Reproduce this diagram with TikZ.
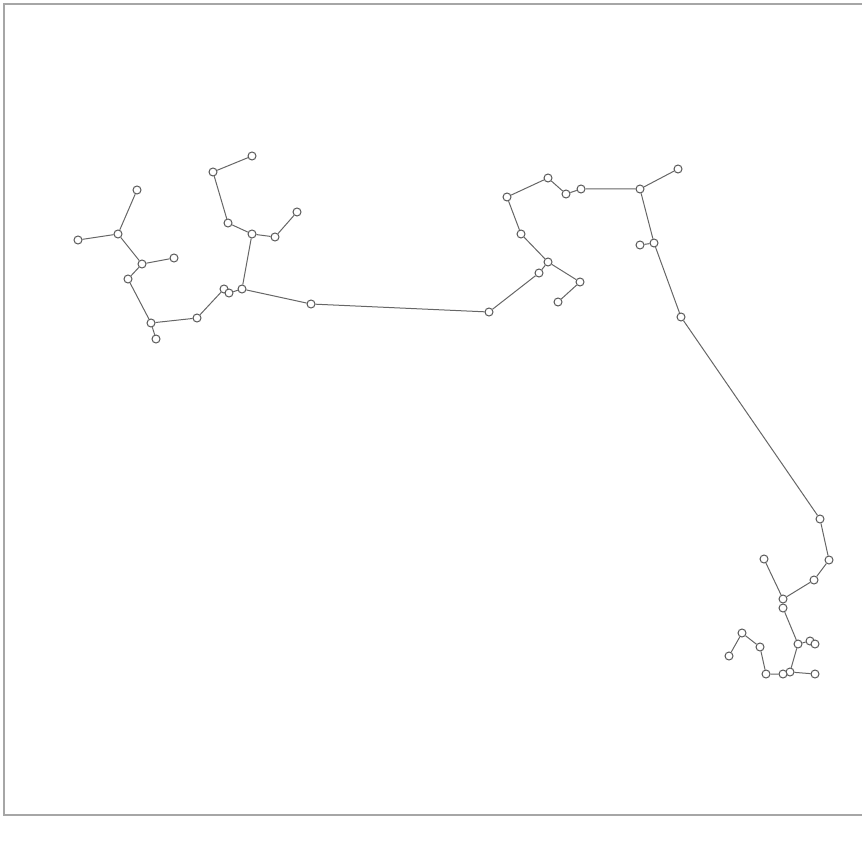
\documentclass[tikz,border=0pt]{standalone}
\begin{document}
\begin{tikzpicture}[x=1pt,y=-1pt,
  vtx/.style={circle,draw=black!65,fill=white,line width=1pt,minimum size=8pt,inner sep=0pt},
  edge/.style={draw=black!60,line width=1pt}]
\useasboundingbox (0,0) rectangle (862,845);
\draw[black!35,line width=1.2pt] (862,4) -- (4,4) -- (4,815) -- (862,815);
% cluster A
\node[vtx] (A1) at (137,190) {};
\node[vtx] (A2) at (78,240) {};
\node[vtx] (A3) at (118,234) {};
\node[vtx] (A4) at (142,264) {};
\node[vtx] (A5) at (174,258) {};
\node[vtx] (A6) at (128,279) {};
\node[vtx] (A7) at (151,323) {};
\node[vtx] (A8) at (156,339) {};
\node[vtx] (A9) at (197,318) {};
\node[vtx] (A10) at (224,289) {};
\node[vtx] (A11) at (229,293) {};
\node[vtx] (A12) at (242,289) {};
\node[vtx] (A13) at (311,304) {};
\node[vtx] (A14) at (213,172) {};
\node[vtx] (A15) at (252,156) {};
\node[vtx] (A16) at (228,223) {};
\node[vtx] (A17) at (252,234) {};
\node[vtx] (A18) at (275,237) {};
\node[vtx] (A19) at (297,212) {};
% cluster B
\node[vtx] (B1) at (489,312) {};
\node[vtx] (B2) at (539,273) {};
\node[vtx] (B3) at (548,262) {};
\node[vtx] (B4) at (580,282) {};
\node[vtx] (B5) at (558,302) {};
\node[vtx] (B6) at (521,234) {};
\node[vtx] (B7) at (507,197) {};
\node[vtx] (B8) at (548,178) {};
\node[vtx] (B9) at (566,194) {};
\node[vtx] (B10) at (581,189) {};
\node[vtx] (B11) at (640,189) {};
\node[vtx] (B12) at (678,169) {};
\node[vtx] (B13) at (654,243) {};
\node[vtx] (B14) at (640,245) {};
\node[vtx] (B15) at (681,317) {};
% cluster C
\node[vtx] (C1) at (820,519) {};
\node[vtx] (C2) at (829,560) {};
\node[vtx] (C3) at (814,580) {};
\node[vtx] (C4) at (783,599) {};
\node[vtx] (C5) at (764,559) {};
\node[vtx] (C6) at (783,608) {};
\node[vtx] (C7) at (798,644) {};
\node[vtx] (C8) at (810,641) {};
\node[vtx] (C9) at (815,644) {};
\node[vtx] (C10) at (790,672) {};
\node[vtx] (C11) at (783,674) {};
\node[vtx] (C12) at (815,674) {};
\node[vtx] (C13) at (766,674) {};
\node[vtx] (C14) at (760,647) {};
\node[vtx] (C15) at (742,633) {};
\node[vtx] (C16) at (729,656) {};
\path[edge]
 (A1)--(A3) (A2)--(A3) (A3)--(A4) (A4)--(A5) (A4)--(A6) (A6)--(A7) (A7)--(A8)
 (A7)--(A9) (A9)--(A10) (A11)--(A12) (A12)--(A13) (A12)--(A17) (A17)--(A16)
 (A16)--(A14) (A14)--(A15) (A17)--(A18) (A18)--(A19)
 (A13)--(B1) (B1)--(B2) (B2)--(B3) (B3)--(B4) (B4)--(B5) (B3)--(B6) (B6)--(B7)
 (B7)--(B8) (B8)--(B9) (B9)--(B10) (B10)--(B11) (B11)--(B12) (B11)--(B13)
 (B13)--(B14) (B13)--(B15)
 (B15)--(C1) (C1)--(C2) (C2)--(C3) (C3)--(C4) (C4)--(C5) (C4)--(C6) (C6)--(C7)
 (C7)--(C8) (C7)--(C10) (C10)--(C12) (C11)--(C13) (C13)--(C14) (C14)--(C15)
 (C15)--(C16);
\end{tikzpicture}
\end{document}
